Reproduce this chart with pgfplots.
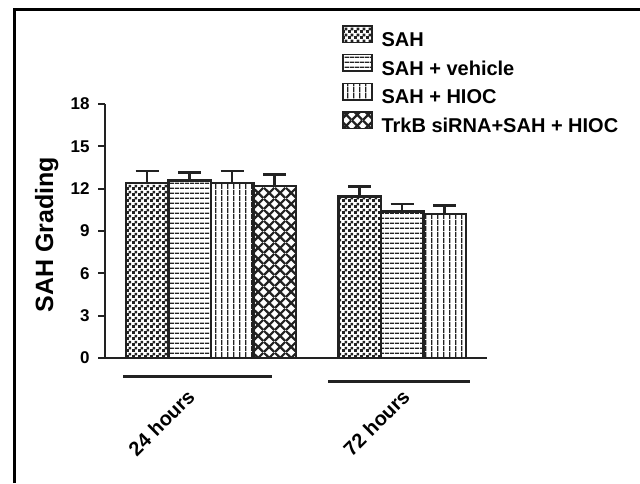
\documentclass[border=0pt]{standalone}
\usepackage{pgfplots}
\pgfplotsset{compat=1.18}
\usepackage{fontspec}
\setmainfont{Liberation Sans}
\usetikzlibrary{patterns.meta}
\definecolor{ink}{HTML}{222222}

\tikzdeclarepattern{name=mycheck, tile size={(6pt,6pt)}, bounding box={(0pt,0pt) and (6pt,6pt)},
  code={\fill (0pt,0pt) rectangle (3.2pt,3.2pt); \fill (3pt,3pt) rectangle (6pt,6pt);}}
\tikzdeclarepattern{name=myhl, tile size={(5pt,5pt)}, bounding box={(0pt,0pt) and (5pt,5pt)},
  code={\fill (0pt,0pt) rectangle (5pt,1.6pt);}}
\tikzdeclarepattern{name=myvl, tile size={(5.5pt,5.5pt)}, bounding box={(0pt,0pt) and (5.5pt,5.5pt)},
  code={\fill (0pt,0pt) rectangle (1.4pt,5.5pt);}}
\tikzdeclarepattern{name=mydiam, tile size={(11pt,11pt)}, bounding box={(0pt,0pt) and (11pt,11pt)},
  code={\draw[line width=2.4pt] (0pt,0pt) -- (11pt,11pt); \draw[line width=2.4pt] (0pt,11pt) -- (11pt,0pt);}}

\pgfplotsset{
  mybar/.style={ybar, bar width=42.5, bar shift=0pt, draw=ink, line width=2.5pt, pattern color=ink,
    legend image code/.code={\draw[##1, line width=1.5pt] (0pt,-1pt) rectangle (29pt,15.5pt);},
    error bars/y dir=plus, error bars/y explicit,
    error bars/error bar style={line width=2.5pt, ink},
    error bars/error mark options={rotate=90, mark size=11.5pt, line width=2.5pt, ink}},
}

\begin{document}
\begin{tikzpicture}
\useasboundingbox (0,0) rectangle (640pt,483pt);
\draw[line width=3pt, black] (14.5pt,0pt) -- (14.5pt,473pt) -- (640pt,473pt);
\begin{axis}[
  at={(105pt,125pt)}, anchor=south west,
  scale only axis, width=382pt, height=254pt,
  xmin=0, xmax=382, ymin=0, ymax=18,
  axis x line=bottom, axis y line=left,
  axis line style={-, line width=2.2pt, ink},
  ytick={0,3,...,18}, xtick={86,301}, xticklabels={24 hours,72 hours},
  tick align=outside, major tick length=7pt,
  ytick style={line width=2pt, ink}, xtick style={draw=none},
  /pgf/number format/assume math mode=true,
  yticklabel style={font=\bfseries\fontsize{17}{17}\selectfont, xshift=-5pt},
  xticklabel style={font=\bfseries\fontsize{20}{20}\selectfont, rotate=45, anchor=east, inner sep=0pt},
  xticklabel shift=28pt,
  ylabel={SAH Grading},
  ylabel style={font=\bfseries\fontsize{25}{25}\selectfont, at={(axis description cs:-0.136,0.485)}, anchor=base, inner sep=0pt},
  clip=false,
  legend style={at={(axis description cs:0.62,1.311)}, anchor=north west, draw=none, fill=none,
    font=\bfseries\fontsize{20}{20}\selectfont, column sep=9pt, row sep=2.5pt, inner sep=0pt,
    nodes={inner sep=0pt, text height=15pt, text depth=5pt}},
  legend cell align=left,
]
\addplot[mybar, pattern=mycheck] coordinates {(42,12.4) +- (0,0.85) (254.5,11.43) +- (0,0.71)};
\addlegendentry{SAH}
\addplot[mybar, pattern=myhl] coordinates {(84.5,12.57) +- (0,0.58) (297,10.37) +- (0,0.53)};
\addlegendentry{SAH + vehicle}
\addplot[mybar, pattern=myvl] coordinates {(127,12.4) +- (0,0.85) (339.5,10.2) +- (0,0.62)};
\addlegendentry{SAH + HIOC}
\addplot[mybar, pattern=mydiam] coordinates {(169.5,12.2) +- (0,0.8)};
\addlegendentry{TrkB siRNA+SAH + HIOC}
\draw[line width=3pt, ink] (axis cs:18,-1.33) -- (axis cs:167,-1.33);
\draw[line width=3pt, ink] (axis cs:223,-1.63) -- (axis cs:365,-1.63);
\end{axis}
\end{tikzpicture}
\end{document}
